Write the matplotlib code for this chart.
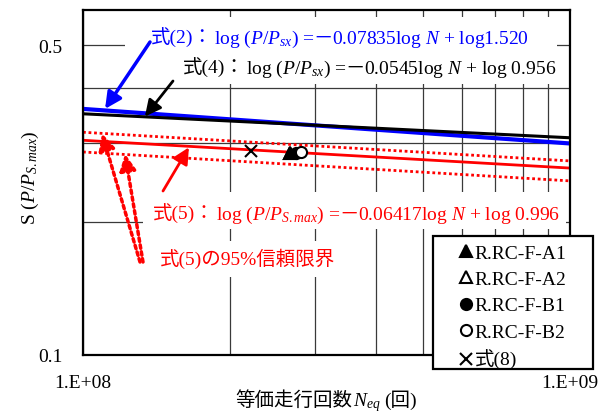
import matplotlib
matplotlib.use('Agg')
import matplotlib.pyplot as plt
from matplotlib.patches import Rectangle
from matplotlib.ticker import NullFormatter

plt.rcParams['font.family'] = ['Liberation Serif', 'Noto Sans CJK JP']
plt.rcParams['mathtext.fontset'] = 'custom'
plt.rcParams['mathtext.rm'] = 'Liberation Serif'
plt.rcParams['mathtext.it'] = 'Liberation Serif:italic'
plt.rcParams['axes.unicode_minus'] = False

W, H = 611, 414

# dados
n_ext = [1e8, 1e9]
s_eq2 = [0.359, 0.300]
s_eq4 = [0.350, 0.309]
s_eq5 = [0.305, 0.264]
s_eq5_sup = [0.318, 0.274]
s_eq5_inf = [0.287, 0.247]

rotulos = ['R.RC-F-A1', 'R.RC-F-A2', 'R.RC-F-B1', 'R.RC-F-B2', '式(8)']
n_ensaio = [2.66e8, 2.66e8, 2.74e8, 2.80e8, 2.21e8]
s_ensaio = [0.286, 0.286, 0.286, 0.287, 0.288]

x_ticks = [1e8, 1e9]
x_rotulos = ['1.E+08', '1.E+09']
x_minor = [2e8, 3e8, 4e8, 5e8, 6e8, 7e8, 8e8, 9e8]
y_ticks = [0.1, 0.5]
y_rotulos = ['0.1', '0.5']
y_minor = [0.2, 0.3, 0.4]


def fig_px(x, y):
    """pixel da imagem (origem em cima) -> fracao da figura"""
    return x / W, 1 - y / H


def texto_em_partes(fig, renderer, x, y, partes, cor, ha='left', tam=14):
    """Escreve um texto feito de partes (CJK / mathtext) na mesma linha de base"""
    objs = []
    pos = x
    for parte, folga in partes:
        pos += folga
        t = fig.text(*fig_px(pos, y), parte, color=cor, fontsize=tam,
                     ha='left', va='baseline', zorder=3)
        objs.append((t, pos))
        pos += t.get_window_extent(renderer).width
    if ha == 'center':
        desloc = (pos - x) / 2
        for t, p in objs:
            t.set_x((p - desloc) / W)
    return pos


fig = plt.figure(figsize=(W / 100, H / 100), dpi=100)
ax = fig.add_axes([83 / W, 1 - 356 / H, 487 / W, 345 / H])
renderer = fig.canvas.get_renderer()

ax.set_xscale('log')
ax.set_yscale('log')

ax.plot(n_ext, s_eq2, color='#0000ff', lw=3.0, zorder=2)
ax.plot(n_ext, s_eq4, color='black', lw=2.2, zorder=2.1)
ax.plot(n_ext, s_eq5, color='#ff0000', lw=2.0, zorder=2)
ax.plot(n_ext, s_eq5_sup, color='#ff0000', lw=2.0, ls=(0, (1, 1)), zorder=2)
ax.plot(n_ext, s_eq5_inf, color='#ff0000', lw=2.0, ls=(0, (1, 1)), zorder=2)

marcadores = ['^', '^', 'o', 'o', 'x']
cores = ['black', 'white', 'black', 'white', 'black']
tamanhos = [9, 9, 8, 8, 9]
ordem = [5, 4, 5, 6, 5]
handles = []
for i in range(len(rotulos)):
    h, = ax.plot([n_ensaio[i]], [s_ensaio[i]], ls='none', marker=marcadores[i],
                 ms=tamanhos[i], mfc=cores[i], mec='black', mew=1.5, zorder=ordem[i])
    handles.append(h)

ax.set_xlim(1e8, 1e9)
ax.set_ylim(0.1, 0.6)
ax.set_xticks(x_ticks)
ax.set_xticklabels(x_rotulos)
ax.set_xticks(x_minor, minor=True)
ax.xaxis.set_minor_formatter(NullFormatter())
ax.set_yticks(y_ticks)
ax.set_yticklabels(y_rotulos)
ax.set_yticks(y_minor, minor=True)
ax.yaxis.set_minor_formatter(NullFormatter())
ax.tick_params(which='both', length=0, labelsize=14)
ax.tick_params(axis='x', pad=14)
ax.tick_params(axis='y', pad=15)
ax.grid(True, which='both', color='#3a3a3a', lw=0.9)
for sp in ax.spines.values():
    sp.set_linewidth(1.6)

# caixas brancas atras dos textos
for (x0, y0, x1, y1) in [(125, 18, 557, 85), (143, 193, 566, 230), (150, 242, 348, 278)]:
    ax.add_patch(Rectangle(fig_px(x0, y1), (x1 - x0) / W, (y1 - y0) / H,
                           transform=fig.transFigure, fc='white', ec='none',
                           zorder=1.8, clip_on=False))

azul, vermelho = '#0000ff', '#ff0000'
texto_em_partes(fig, renderer, 151, 44, [('式(2)：', 0), ('log ($P/P_{sx}$) =', 1),
                                          ('－', -1), ('0.07835log $N$ + log1.520', -1)], azul)
texto_em_partes(fig, renderer, 183, 74, [('式(4)：', 0), ('log ($P/P_{sx}$) =', 1),
                                          ('－', -1), ('0.0545log $N$ + log 0.956', -1)], 'black')
texto_em_partes(fig, renderer, 153, 220, [('式(5)：', 0), ('log ($P/P_{S.max}$) =', 1),
                                           ('－', -1), ('0.06417log $N$ + log 0.996', -1)], vermelho)
fig.text(*fig_px(160, 265), '式(5)の95%信頼限界', color=vermelho, fontsize=14,
         va='baseline', zorder=3)

# setas
seta = dict(arrowstyle='-|>,head_length=0.7,head_width=0.35', shrinkA=0, shrinkB=0,
            mutation_scale=14)
ax.annotate('', xy=(1.11e8, 0.359), xytext=(150, H - 43), textcoords='figure pixels',
            arrowprops=dict(seta, color=azul, lw=2.5))
ax.annotate('', xy=(1.34e8, 0.345), xytext=(173, H - 82), textcoords='figure pixels',
            arrowprops=dict(seta, color='black', lw=2.0))
ax.annotate('', xy=(1.65e8, 0.294), xytext=(163, H - 192), textcoords='figure pixels',
            arrowprops=dict(seta, color=vermelho, lw=2.0))
ax.annotate('', xy=(1.094e8, 0.316), xytext=(140, H - 263), textcoords='figure pixels',
            arrowprops=dict(seta, color=vermelho, lw=2.5, ls=(0, (1, 1))))
ax.annotate('', xy=(1.22e8, 0.284), xytext=(143, H - 263), textcoords='figure pixels',
            arrowprops=dict(seta, color=vermelho, lw=2.5, ls=(0, (1, 1))))

# rotulos dos eixos
fig.text(*fig_px(30, 178), 'S ($P/P_{S.max}$)', fontsize=14, rotation=90,
         ha='center', va='center')
texto_em_partes(fig, renderer, 326, 406, [('等価走行回数', 0), ('$N_{eq}$', 1), ('(回)', 4)],
                'black', ha='center')

# legenda
fig.add_artist(Rectangle(fig_px(433, 370), 160 / W, 133 / H, transform=fig.transFigure,
                         fc='white', ec='black', lw=1.6, zorder=4))
fig.legend(handles, rotulos, loc='upper left', bbox_to_anchor=fig_px(456, 245),
           frameon=False, handlelength=1.0, handletextpad=-0.05, borderpad=0,
           borderaxespad=0, labelspacing=0.45, fontsize=14, numpoints=1)

fig.savefig('out.png', dpi=100)
